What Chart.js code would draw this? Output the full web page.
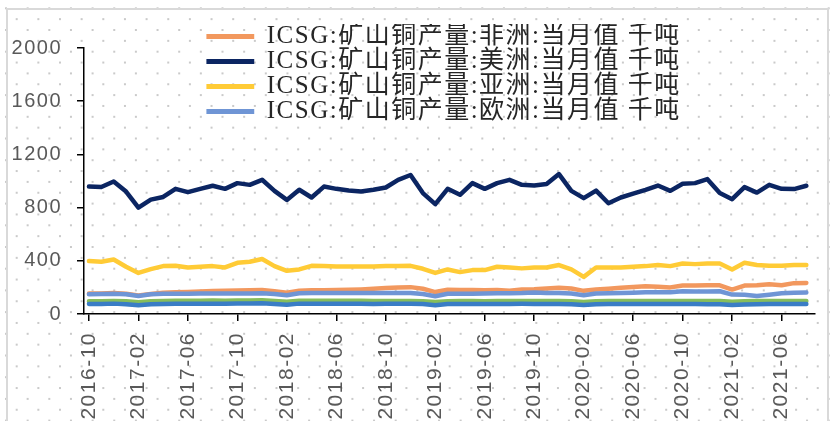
<!DOCTYPE html>
<html>
<head>
<meta charset="utf-8">
<script src="https://cdn.jsdelivr.net/npm/chart.js@4/dist/chart.umd.min.js"></script>
<style>
  html, body { margin: 0; padding: 0; background: #fff; }
  #wrap { width: 835px; height: 421px; }
</style>
</head>
<body>
<div id="wrap"><canvas id="c"></canvas></div>
<script>
// months 2016-10 .. 2021-08
const months = [
  '2016-10','2016-11','2016-12','2017-01','2017-02','2017-03','2017-04','2017-05','2017-06','2017-07','2017-08','2017-09',
  '2017-10','2017-11','2017-12','2018-01','2018-02','2018-03','2018-04','2018-05','2018-06','2018-07','2018-08','2018-09',
  '2018-10','2018-11','2018-12','2019-01','2019-02','2019-03','2019-04','2019-05','2019-06','2019-07','2019-08','2019-09',
  '2019-10','2019-11','2019-12','2020-01','2020-02','2020-03','2020-04','2020-05','2020-06','2020-07','2020-08','2020-09',
  '2020-10','2020-11','2020-12','2021-01','2021-02','2021-03','2021-04','2021-05','2021-06','2021-07','2021-08'
];

const africa = [155,155,158,152,140,150,160,164,166,170,172,174,176,178,180,172,160,175,178,178,180,182,185,190,
  196,200,202,190,165,182,180,180,178,180,175,184,186,192,198,192,174,184,190,198,203,208,205,200,
  214,214,216,216,184,214,216,224,216,232,234];
const americas = [958,955,996,921,800,860,880,941,916,941,964,941,984,971,1009,926,858,934,876,958,941,928,921,934,
  951,1009,1045,909,826,941,896,984,941,984,1009,971,966,977,1052,926,871,928,833,876,905,934,966,926,
  979,984,1014,909,863,954,913,971,941,939,964];
const asia = [398,393,410,355,309,337,360,362,350,355,360,350,385,393,413,360,325,335,362,360,358,358,358,358,
  360,360,362,340,309,335,315,330,330,355,350,343,350,350,368,335,279,350,350,350,355,360,368,360,
  380,375,380,380,335,385,368,362,362,368,368];
const europe = [149,150,152,148,136,148,152,153,153,154,154,154,155,155,156,150,141,156,157,157,157,157,157,157,
  158,158,158,150,134,152,153,153,154,156,156,157,161,158,158,154,141,154,156,158,160,164,164,163,
  171,170,170,171,146,144,136,145,156,160,161];
const greenSeries = [95,95,97,96,88,96,98,100,100,100,101,100,102,102,103,98,92,100,100,100,99,99,99,98,
  98,97,97,95,90,96,97,97,96,97,97,98,98,98,98,96,90,96,98,98,98,98,98,97,
  97,97,97,97,92,96,97,98,98,98,98];
const blueSeries = [76,75,78,74,65,74,76,77,77,78,78,77,79,79,80,76,70,78,77,78,77,78,78,76,
  77,77,77,75,66,75,76,76,75,76,76,77,76,76,76,74,67,74,75,76,76,76,75,75,
  75,75,74,74,68,72,74,75,75,76,76];

const seriesNames = [
  'ICSG:矿山铜产量:非洲:当月值 千吨',
  'ICSG:矿山铜产量:美洲:当月值 千吨',
  'ICSG:矿山铜产量:亚洲:当月值 千吨',
  'ICSG:矿山铜产量:欧洲:当月值 千吨',
  '',
  ''
];
const seriesData = [africa, americas, asia, europe, greenSeries, blueSeries];
const seriesColors = ['#F2985E', '#0B2562', '#FFCB36', '#6F95D5', '#86BD5B', '#3A7DC5'];
const drawOrder = [2, 2, 2, 1, 2, 1];

const dotsBg = {
  id: 'dotsBg',
  beforeLayout(chart) { chart.ctx.letterSpacing = '1.5px'; },
  afterLayout(chart) {
    // legend sits over the top of the plot, like the original
    const lg = chart.legend, ca = chart.chartArea;
    const w = lg.legendHitBoxes.length ? lg.legendHitBoxes[0].width : 0;
    lg.left = (ca.left + ca.right) / 2 - w / 2 - 6;
    lg.top = ca.top - 24;
  },
  beforeDraw(chart) {
    const { ctx, width, height } = chart;
    ctx.save();
    ctx.fillStyle = '#fff';
    ctx.fillRect(0, 0, width, height);
    ctx.fillStyle = '#cacaca';
    for (let r = 0, y = 8.3; y < height; r++, y += 10.85) {
      for (let x = r % 2 ? 16.7 : 6; x < width; x += 21.65) ctx.fillRect(x - 1, y - 1, 2, 2);
    }
    ctx.strokeStyle = '#d9d9d9';
    ctx.lineWidth = 2;
    ctx.strokeRect(7, 9, 821, 440);
    ctx.restore();
    ctx.letterSpacing = '1.5px';
  }
};

const tickFont = { family: '"Liberation Sans", Arial, sans-serif', size: 20 };

new Chart(document.getElementById('c'), {
  type: 'line',
  data: {
    datasets: seriesData.map((arr, i) => ({
      label: seriesNames[i],
      data: arr.map((v, k) => ({ x: k, y: v })),
      borderColor: seriesColors[i],
      backgroundColor: seriesColors[i],
      borderWidth: 4.5,
      pointRadius: 0,
      tension: 0,
      fill: false,
      borderJoinStyle: 'round',
      borderCapStyle: 'round',
      order: drawOrder[i]
    }))
  },
  options: {
    responsive: true, maintainAspectRatio: false, animation: false, devicePixelRatio: 1,
    layout: { padding: { left: 0, right: 20, top: 48, bottom: 0 } },
    plugins: {
      tooltip: { enabled: false },
      legend: {
        position: 'chartArea', align: 'start',
        labels: {
          boxWidth: 48, boxHeight: 5, padding: 0, color: '#262626',
          font: { family: '"Liberation Serif", "Noto Sans CJK SC", serif', size: 25, lineHeight: 1 },
          filter: item => item.datasetIndex < 4,
          sort: (a, b) => a.datasetIndex - b.datasetIndex,
          generateLabels: chart => Chart.defaults.plugins.legend.labels.generateLabels(chart)
            .map(l => ({ ...l, lineWidth: 0, fillStyle: seriesColors[l.datasetIndex] }))
        }
      }
    },
    scales: {
      x: {
        type: 'linear', min: -0.4, max: 58.7,
        afterBuildTicks: s => { s.ticks = months.map((m, i) => ({ value: i })).filter(t => t.value % 4 === 0); },
        afterFit: s => { s.height = 107; },
        grid: { drawOnChartArea: false, tickLength: 7, color: '#000', lineWidth: 1.5 },
        border: { color: '#000', width: 1.5 },
        ticks: { autoSkip: false, maxRotation: 90, minRotation: 90, padding: 11, color: '#595959',
          font: { family: '"Liberation Sans", Arial, sans-serif', size: 21 },
          callback: v => months[v] }
      },
      y: {
        min: 0, max: 2000,
        afterFit: s => { s.width = 84; },
        grid: { drawOnChartArea: false, tickLength: 7, color: '#000', lineWidth: 1.5 },
        border: { color: '#000', width: 1.5 },
        ticks: { stepSize: 400, padding: 15, color: '#595959', font: tickFont, callback: v => String(v) }
      }
    }
  },
  plugins: [dotsBg]
});
</script>
</body>
</html>
